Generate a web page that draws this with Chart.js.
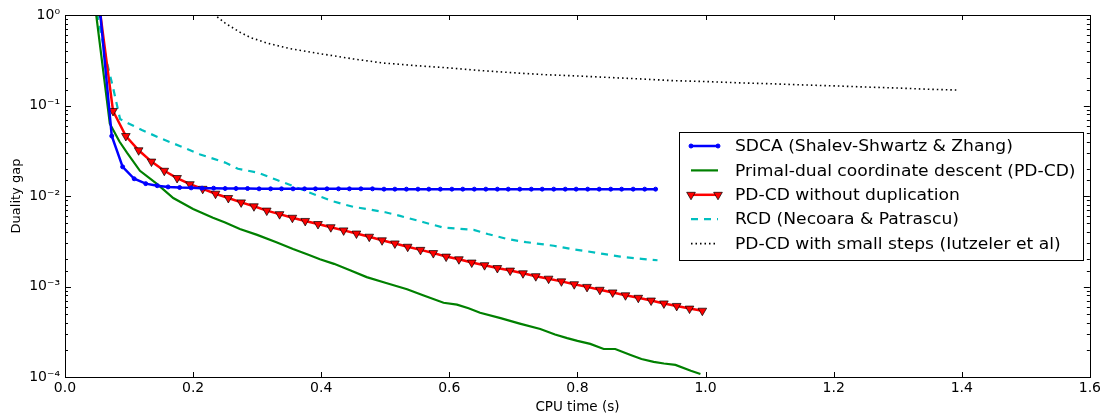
<!DOCTYPE html>
<html>
<head>
<meta charset="utf-8">
<script src="https://cdn.jsdelivr.net/npm/chart.js@4.4.1/dist/chart.umd.min.js"></script>
<style>
  html, body { margin: 0; padding: 0; background: #fff; }
  #wrap { width: 1104px; height: 418px; }
</style>
</head>
<body>
<div id="wrap"><canvas id="gapChart" width="1104" height="418"></canvas></div>
<script>
const seriesNames = [
  "SDCA (Shalev-Shwartz & Zhang)",
  "Primal-dual coordinate descent (PD-CD)",
  "PD-CD without duplication",
  "RCD (Necoara & Patrascu)",
  "PD-CD with small steps (Iutzeler et al)",
];

const xTicks = [0.0, 0.2, 0.4, 0.6, 0.8, 1.0, 1.2, 1.4, 1.6];

const sdcaTime = [0.055, 0.073, 0.090, 0.108, 0.126, 0.144, 0.161, 0.179, 0.197, 0.214,
  0.232, 0.250, 0.267, 0.285, 0.303, 0.321, 0.338, 0.356, 0.374, 0.391,
  0.409, 0.427, 0.444, 0.462, 0.480, 0.498, 0.515, 0.533, 0.551, 0.568,
  0.586, 0.604, 0.621, 0.639, 0.657, 0.675, 0.692, 0.710, 0.728, 0.745,
  0.763, 0.781, 0.798, 0.816, 0.834, 0.852, 0.869, 0.887, 0.905, 0.922];
const sdcaGap = [1.05, 0.046, 0.021, 0.0155, 0.0137, 0.0130, 0.0126, 0.0124, 0.0123, 0.0122,
  0.0122, 0.0121, 0.0121, 0.0121, 0.0120, 0.0120, 0.0120, 0.0120, 0.0120, 0.0120,
  0.0120, 0.0120, 0.0120, 0.0120, 0.0120, 0.0119, 0.0119, 0.0119, 0.0119, 0.0119,
  0.0119, 0.0119, 0.0119, 0.0119, 0.0119, 0.0119, 0.0119, 0.0119, 0.0119, 0.0119,
  0.0119, 0.0119, 0.0119, 0.0119, 0.0119, 0.0119, 0.0119, 0.0119, 0.0119, 0.0119];

const pdcdTime = [0.048, 0.070, 0.085, 0.097, 0.117, 0.144, 0.169, 0.200, 0.231, 0.250,
  0.273, 0.300, 0.330, 0.356, 0.380, 0.398, 0.420, 0.445, 0.471, 0.500,
  0.534, 0.560, 0.591, 0.612, 0.630, 0.648, 0.680, 0.710, 0.742, 0.765,
  0.784, 0.800, 0.820, 0.841, 0.859, 0.883, 0.900, 0.919, 0.935, 0.953,
  0.977, 0.992];
const pdcdGap = [1.1, 0.063, 0.040, 0.030, 0.019, 0.0135, 0.0095, 0.0072, 0.00575, 0.0051,
  0.00432, 0.00372, 0.00309, 0.00259, 0.00224, 0.0020, 0.00178, 0.00151, 0.00127, 0.00110,
  0.000933, 0.000794, 0.000661, 0.000631, 0.000575, 0.000513, 0.000447, 0.000389, 0.000339, 0.000295,
  0.000269, 0.000251, 0.000232, 0.000204, 0.000204, 0.000175, 0.000158, 0.000147, 0.000141, 0.000136,
  0.000117, 0.000108];

const noDupTime = [0.055, 0.075, 0.095, 0.115, 0.135, 0.155, 0.175, 0.195, 0.215, 0.235,
  0.255, 0.275, 0.295, 0.315, 0.335, 0.355, 0.375, 0.395, 0.415, 0.435,
  0.455, 0.475, 0.495, 0.515, 0.535, 0.555, 0.575, 0.595, 0.615, 0.635,
  0.655, 0.675, 0.695, 0.715, 0.735, 0.755, 0.775, 0.795, 0.815, 0.835,
  0.855, 0.875, 0.895, 0.915, 0.935, 0.955, 0.975, 0.995];
const noDupGap = [1.05, 0.087, 0.046, 0.032, 0.024, 0.019, 0.0158, 0.0135, 0.0120, 0.0106,
  0.0095, 0.0085, 0.0077, 0.0069, 0.0063, 0.00575, 0.0053, 0.0049, 0.00452, 0.00417,
  0.00385, 0.00355, 0.00324, 0.00299, 0.00275, 0.00254, 0.00234, 0.00214, 0.0020, 0.00184,
  0.00172, 0.0016, 0.0015, 0.0014, 0.0013, 0.00122, 0.00114, 0.00106, 0.00099, 0.00092,
  0.00086, 0.0008, 0.00075, 0.0007, 0.00065, 0.00061, 0.00057, 0.00054];

const rcdTime = [0.050, 0.065, 0.075, 0.086, 0.100, 0.120, 0.148, 0.180, 0.211, 0.250,
  0.270, 0.300, 0.330, 0.356, 0.380, 0.419, 0.450, 0.477, 0.500, 0.523,
  0.560, 0.591, 0.638, 0.660, 0.690, 0.720, 0.763, 0.790, 0.815, 0.840,
  0.867, 0.900, 0.925];
const rcdGap = [1.05, 0.309, 0.158, 0.0708, 0.063, 0.0537, 0.0437, 0.0355, 0.0288, 0.0234,
  0.0200, 0.0182, 0.0151, 0.0129, 0.0110, 0.0087, 0.00759, 0.00708, 0.00661, 0.00603,
  0.00513, 0.00447, 0.00422, 0.0038, 0.00335, 0.00309, 0.00282, 0.0026, 0.00245, 0.00229,
  0.00214, 0.00202, 0.00195];

const smallStepTime = [0.220, 0.234, 0.250, 0.273, 0.290, 0.315, 0.350, 0.400, 0.450, 0.496,
  0.550, 0.600, 0.650, 0.704, 0.750, 0.800, 0.850, 0.909, 0.950, 1.000,
  1.053, 1.100, 1.150, 1.209, 1.250, 1.300, 1.350, 1.396];
const smallStepGap = [1.15, 1.0, 0.813, 0.646, 0.562, 0.49, 0.427, 0.372, 0.327, 0.295,
  0.275, 0.26, 0.243, 0.229, 0.219, 0.212, 0.204, 0.195, 0.188, 0.184,
  0.178, 0.174, 0.169, 0.164, 0.160, 0.156, 0.151, 0.148];

const FONT = "'DejaVu Sans', sans-serif";
const SUP = { "0": "\u2070", "1": "\u00b9", "2": "\u00b2", "3": "\u00b3", "4": "\u2074", "-": "\u207b" };

function toPoints(xs, ys) {
  return xs.map((x, i) => ({ x: x, y: ys[i] }));
}

function isDecade(v) {
  const e = Math.log10(v);
  return Math.abs(e - Math.round(e)) < 1e-6;
}

function decadeLabel(v) {
  const e = String(Math.round(Math.log10(v)));
  return "10" + e.split("").map((c) => SUP[c]).join("");
}

// matplotlib-style frame with inward ticks on all four sides
const frameTicks = {
  id: "frameTicks",
  afterDatasetsDraw(chart) {
    const { ctx, chartArea: a, scales } = chart;
    ctx.save();
    ctx.strokeStyle = "#000";
    ctx.lineWidth = 1;
    ctx.beginPath();
    scales.x.ticks.forEach((t) => {
      const px = Math.round(scales.x.getPixelForValue(t.value)) + 0.5;
      ctx.moveTo(px, a.bottom);
      ctx.lineTo(px, a.bottom - 5);
      ctx.moveTo(px, a.top);
      ctx.lineTo(px, a.top + 5);
    });
    scales.y.ticks.forEach((t) => {
      const py = Math.round(scales.y.getPixelForValue(t.value)) + 0.5;
      const len = isDecade(t.value) ? 6 : 3;
      ctx.moveTo(a.left, py);
      ctx.lineTo(a.left + len, py);
      ctx.moveTo(a.right, py);
      ctx.lineTo(a.right - len, py);
    });
    ctx.stroke();
    ctx.strokeRect(Math.round(a.left) + 0.5, Math.round(a.top) + 0.5,
      Math.round(a.right - a.left), Math.round(a.bottom - a.top));
    ctx.restore();
  },
};

function drawMarker(ctx, ds, x, y) {
  if (!ds.pointRadius) return;
  ctx.save();
  ctx.fillStyle = ds.pointBackgroundColor;
  ctx.strokeStyle = ds.pointBorderColor;
  ctx.lineWidth = ds.pointBorderWidth;
  ctx.beginPath();
  if (ds.pointStyle === "triangle") {
    const r = ds.pointRadius;
    ctx.moveTo(x - r * 0.87, y - r * 0.5);
    ctx.lineTo(x + r * 0.87, y - r * 0.5);
    ctx.lineTo(x, y + r);
    ctx.closePath();
  } else {
    ctx.arc(x, y, ds.pointRadius, 0, Math.PI * 2);
  }
  ctx.fill();
  ctx.stroke();
  ctx.restore();
}

// legend box placed inside the plot, like the original
const boxLegend = {
  id: "boxLegend",
  afterDraw(chart) {
    const ctx = chart.ctx;
    const left = 679, top = 132, width = 404, height = 128;
    ctx.save();
    ctx.fillStyle = "#fff";
    ctx.fillRect(left, top, width, height);
    ctx.strokeStyle = "#000";
    ctx.lineWidth = 1;
    ctx.strokeRect(left + 0.5, top + 0.5, width, height);
    ctx.textBaseline = "middle";
    chart.data.datasets.forEach((ds, i) => {
      const y = top + 14 + i * 24.4;
      ctx.save();
      ctx.strokeStyle = ds.borderColor;
      ctx.lineWidth = ds.borderWidth;
      ctx.setLineDash(ds.borderDash || []);
      ctx.beginPath();
      ctx.moveTo(691, y);
      ctx.lineTo(718, y);
      ctx.stroke();
      ctx.restore();
      drawMarker(ctx, ds, 691, y);
      drawMarker(ctx, ds, 718, y);
      // the original's text is a little wider than plain DejaVu
      ctx.save();
      ctx.translate(735, y + 1);
      ctx.scale(1.07, 1);
      ctx.font = "16px " + FONT;
      ctx.fillStyle = "#000";
      ctx.fillText(ds.label, 0, 0);
      ctx.restore();
    });
    ctx.restore();
  },
};

const chartCanvas = document.getElementById("gapChart");

const gapChart = new Chart(chartCanvas, {
  type: "line",
  data: {
    datasets: [
      {
        label: seriesNames[0],
        data: toPoints(sdcaTime, sdcaGap),
        borderColor: "#0000ff",
        borderWidth: 2.5,
        pointRadius: 2,
        pointBackgroundColor: "#0000ff",
        pointBorderColor: "#0000ff",
        pointBorderWidth: 1,
      },
      {
        label: seriesNames[1],
        data: toPoints(pdcdTime, pdcdGap),
        borderColor: "#008000",
        borderWidth: 2.2,
        pointRadius: 0,
      },
      {
        label: seriesNames[2],
        data: toPoints(noDupTime, noDupGap),
        borderColor: "#ff0000",
        borderWidth: 2.5,
        pointStyle: "triangle",
        rotation: 180,
        pointRadius: 5,
        pointBackgroundColor: "#ff0000",
        pointBorderColor: "#000",
        pointBorderWidth: 0.7,
      },
      {
        label: seriesNames[3],
        data: toPoints(rcdTime, rcdGap),
        borderColor: "#00bfbf",
        borderWidth: 2.2,
        borderDash: [7, 6],
        pointRadius: 0,
      },
      {
        label: seriesNames[4],
        data: toPoints(smallStepTime, smallStepGap),
        borderColor: "#000",
        borderWidth: 1.6,
        borderDash: [1.5, 3],
        pointRadius: 0,
      },
    ],
  },
  options: {
    responsive: false,
    animation: false,
    devicePixelRatio: 1,
    layout: { padding: { top: 15, right: 13, left: 0, bottom: 0 } },
    elements: { line: { tension: 0, fill: false } },
    plugins: {
      legend: { display: false },
      tooltip: { enabled: false },
    },
    scales: {
      x: {
        type: "linear",
        min: 0,
        max: 1.6,
        afterBuildTicks: (scale) => {
          scale.ticks = xTicks.map((v) => ({ value: v }));
        },
        afterFit: (scale) => {
          scale.height = 41;
        },
        grid: { display: false, drawTicks: false },
        border: { display: false },
        ticks: {
          color: "#000",
          font: { family: FONT, size: 14 },
          padding: 3,
          maxRotation: 0,
          autoSkip: false,
          callback: (v) => Number(v).toFixed(1),
        },
        title: {
          display: true,
          text: "CPU time (s)",
          color: "#000",
          font: { family: FONT, size: 13.5 },
          padding: { top: 2, bottom: 2 },
        },
      },
      y: {
        type: "logarithmic",
        min: 1e-4,
        max: 1,
        afterFit: (scale) => {
          scale.width = 65;
        },
        grid: { display: false, drawTicks: false },
        border: { display: false },
        ticks: {
          color: "#000",
          font: { family: FONT, size: 14 },
          padding: 5,
          autoSkip: false,
          callback: (v) => (isDecade(v) ? decadeLabel(v) : ""),
        },
        title: {
          display: true,
          text: "Duality gap",
          color: "#000",
          font: { family: FONT, size: 13 },
          padding: { top: 9, bottom: 0 },
        },
      },
    },
  },
  plugins: [frameTicks, boxLegend],
});
</script>
</body>
</html>
